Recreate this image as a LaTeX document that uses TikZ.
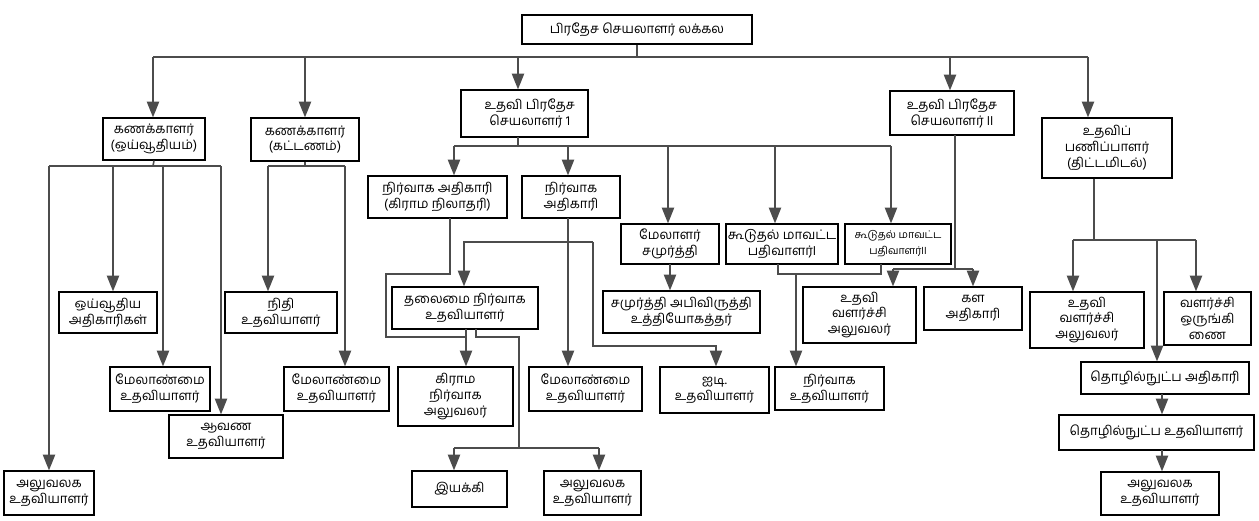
\documentclass[tikz,border=0pt]{standalone}
\usepackage{fontspec}
\newfontfamily\tamilfont[Script=Tamil]{Hind Madurai}
\usetikzlibrary{arrows.meta}

% box from pixel corners: name, x1, y1, x2, y2, text
\newcommand{\orgbox}[6]{%
  \node[box, minimum width={(#4-#2)*0.02cm}, minimum height={(#5-#3)*0.02cm}]
    (#1) at ({(#2+#4)/2},{(#3+#5)/2}) {#6};}

\tikzset{
  box/.style={draw, line width=0.7pt, inner sep=1pt, align=center,
    font=\tamilfont\fontsize{7.5}{9}\selectfont},
  line/.style={draw=black!70, line width=0.9pt},
  arr/.style={line, -{Triangle[width=7pt,length=9pt]}}
}

\begin{document}
\begin{tikzpicture}[x=0.02cm, y=-0.02cm]
\useasboundingbox (0,0) rectangle (1259,521);

% level one
\orgbox{top}{522}{15}{752}{44}{பிரதேச செயலாளர் லக்கல}
\orgbox{A}{103}{118}{205}{160}{கணக்காளர்\\(ஒய்வூதியம்)}
\orgbox{B}{251}{118}{359}{161}{கணக்காளர்\\(கட்டணம்)}
\orgbox{C}{461}{90}{588}{137}{\hspace*{6pt}உதவி பிரதேச\hfill\\\hspace*{6pt}செயலாளர் 1\hfill}
\orgbox{D}{890}{91}{1014}{135}{உதவி பிரதேச\\செயலாளர் II}
\orgbox{E}{1042}{118}{1172}{178}{உதவிப்\\பணிப்பாளர்\\(திட்டமிடல்)}

% under A and B
\orgbox{a1}{59}{292}{157}{333}{ஒய்வூதிய\\அதிகாரிகள்}
\orgbox{a2}{110}{367}{210}{411}{மேலாண்மை\\உதவியாளர்}
\orgbox{a3}{169}{415}{283}{458}{ஆவண\\உதவியாளர்}
\orgbox{a4}{4}{471}{94}{515}{அலுவலக\\உதவியாளர்}
\orgbox{b1}{225}{292}{337}{333}{நிதி\\உதவியாளர்}
\orgbox{b2}{284}{367}{389}{411}{மேலாண்மை\\உதவியாளர்}

% under C
\orgbox{c1}{368}{176}{507}{218}{நிர்வாக அதிகாரி\\(கிராம நிலாதரி)}
\orgbox{c2}{522}{176}{620}{218}{நிர்வாக\\அதிகாரி}
\orgbox{c3}{621}{224}{719}{264}{மேலாளர்\\சமுர்த்தி}
\orgbox{c4}{726}{224}{838}{264}{கூடுதல் மாவட்ட\\பதிவாளர்I}
\orgbox{c5}{845}{224}{951}{264}{\fontsize{6}{8}\selectfont கூடுதல் மாவட்ட\\\fontsize{6}{8}\selectfont பதிவாளர்II}
\orgbox{h}{392}{287}{538}{329}{தலைமை நிர்வாக\\உதவியாளர்}
\orgbox{h1}{398}{367}{513}{426}{கிராம\\நிர்வாக\\அலுவலர்}
\orgbox{h2}{412}{471}{507}{507}{இயக்கி}
\orgbox{h3}{544}{471}{641}{515}{அலுவலக\\உதவியாளர்}
\orgbox{c2x}{529}{367}{642}{411}{மேலாண்மை\\உதவியாளர்}
\orgbox{c3x}{603}{291}{760}{333}{சமுர்த்தி அபிவிருத்தி\\உத்தியோகத்தர்}
\orgbox{id}{660}{367}{769}{413}{ஐடி.\\உதவியாளர்}
\orgbox{c4x}{775}{367}{884}{410}{நிர்வாக\\உதவியாளர்}

% under D and E
\orgbox{d1}{803}{287}{916}{343}{உதவி\\வளர்ச்சி\\அலுவலர்}
\orgbox{d2}{924}{287}{1022}{330}{கள\\அதிகாரி}
\orgbox{e1}{1030}{292}{1144}{348}{உதவி\\வளர்ச்சி\\அலுவலர்}
\orgbox{e2}{1164}{292}{1251}{345}{வளர்ச்சி\hfill\\ஒருங்கி\hfill\\ணை\hfill}
\orgbox{e3}{1081}{362}{1249}{394}{தொழில்நுட்ப அதிகாரி}
\orgbox{e4}{1059}{415}{1254}{450}{தொழில்நுட்ப உதவியாளர்}
\orgbox{e5}{1101}{472}{1219}{515}{அலுவலக\\உதவியாளர்}

% top bus
\draw[line] (top.south) -- (637,57);
\draw[line] (153,57) -- (1088,57);
\draw[arr] (153,57) -- (153,57 |- A.north);
\draw[arr] (305,57) -- (305,57 |- B.north);
\draw[arr] (518,57) -- (518,57 |- C.north);
\draw[arr] (950,57) -- (950,57 |- D.north);
\draw[arr] (1088,57) -- (1088,57 |- E.north);

% A
\draw[line] (A.south) -- (153,166);
\draw[line] (49,166) -- (221,166);
\draw[arr] (113,166) -- (113,166 |- a1.north);
\draw[arr] (163,166) -- (163,166 |- a2.north);
\draw[arr] (221,166) -- (221,166 |- a3.north);
\draw[arr] (49,166) -- (49,166 |- a4.north);

% B
\draw[line] (B.south) -- (305,166);
\draw[line] (268,166) -- (345,166);
\draw[arr] (268,166) -- (268,166 |- b1.north);
\draw[arr] (345,166) -- (345,166 |- b2.north);

% C
\draw[line] (518,137) -- (518,146);
\draw[line] (454,146) -- (891,146);
\draw[arr] (454,146) -- (454,146 |- c1.north);
\draw[arr] (568,146) -- (568,146 |- c2.north);
\draw[arr] (668,146) -- (668,146 |- c3.north);
\draw[arr] (775,146) -- (775,146 |- c4.north);
\draw[arr] (891,146) -- (891,146 |- c5.north);

\draw[line] (450,218) -- (450,274) -- (386,274) -- (386,337) -- (466,337);
\draw[arr] (466,329) -- (466,329 |- h1.north);
\draw[arr] (568,218) -- (568,218 |- c2x.north);
\coordinate (j1) at (568,242);
\draw[arr] (593,242) -- (464,242) -- (464,242 |- h.north);
\draw[arr] (593,242) -- (593,346) -- (716,346) -- (716,346 |- id.north);
\draw[arr] (670,264) -- (670,264 |- c3x.north);
\draw[line] (476,329) -- (476,337) -- (519,337) -- (519,448);
\draw[line] (454,448) -- (599,448);
\draw[arr] (454,448) -- (454,448 |- h2.north);
\draw[arr] (599,448) -- (599,448 |- h3.north);
\draw[line] (778,264) -- (778,274) -- (881,274) -- (881,264);
\draw[arr] (796,274) -- (796,274 |- c4x.north);

% D
\draw[line] (955,135) -- (955,269);
\draw[line] (893,269) -- (973,269);
\draw[arr] (893,269) -- (893,269 |- d1.north);
\draw[arr] (973,269) -- (973,269 |- d2.north);

% E
\draw[line] (E.south -| 1094,0) -- (1094,240);
\draw[line] (1073,240) -- (1196,240);
\draw[arr] (1073,240) -- (1073,240 |- e1.north);
\draw[arr] (1196,240) -- (1196,240 |- e2.north);
\draw[arr] (1157,240) -- (1157,240 |- e3.north);
\draw[arr] (1162,394) -- (1162,394 |- e4.north);
\draw[arr] (1162,450) -- (1162,450 |- e5.north);
\end{tikzpicture}
\end{document}
